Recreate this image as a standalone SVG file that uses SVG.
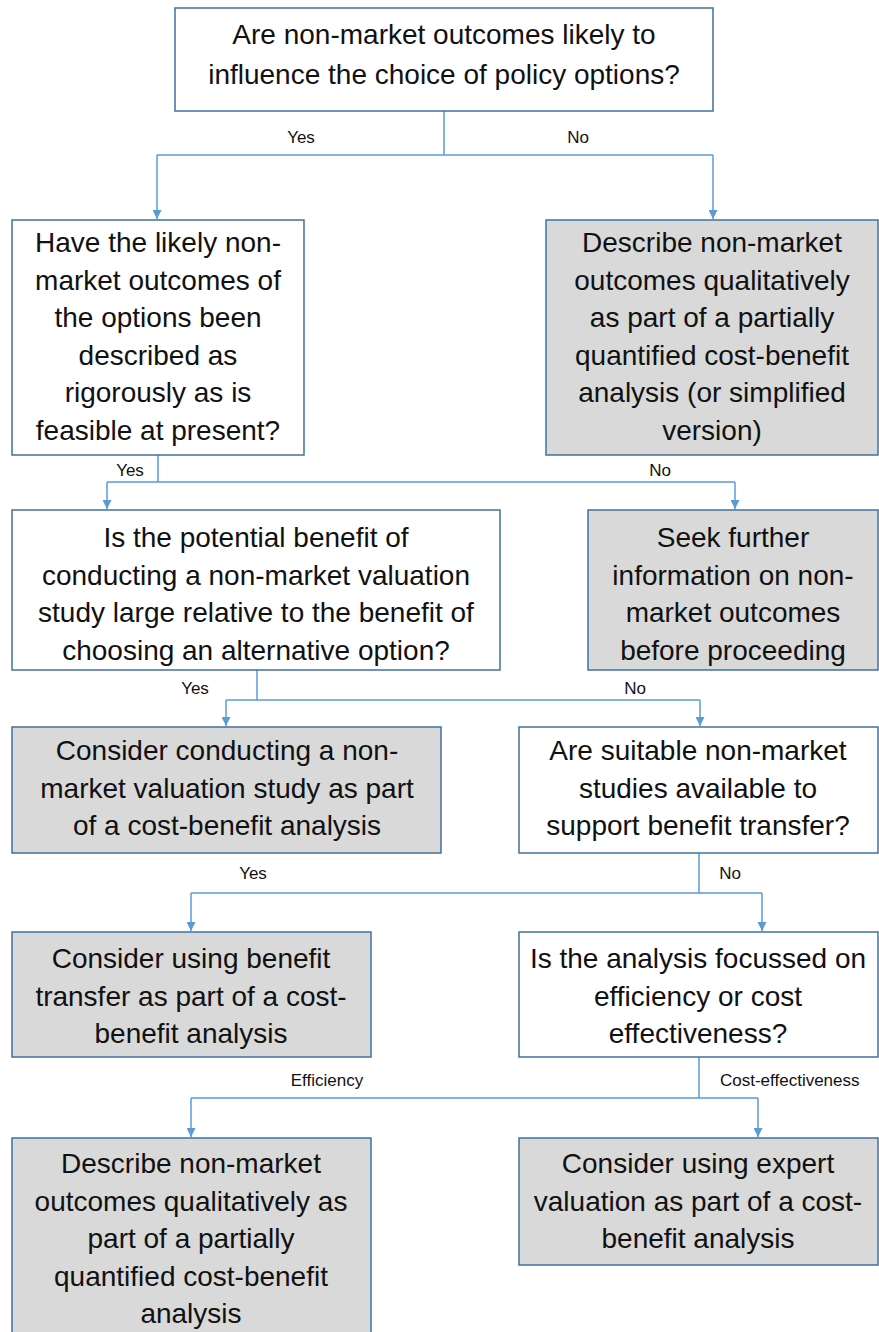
<svg xmlns="http://www.w3.org/2000/svg" width="879" height="1332" viewBox="0 0 879 1332">
<style>
.box{stroke:#41719c;stroke-width:1.5}
.w{fill:#ffffff}
.g{fill:#d9d9d9}
.t{font-family:"Liberation Sans",Arial,sans-serif;font-size:28px;fill:#111;text-anchor:middle}
.lbl{font-family:"Liberation Sans",Arial,sans-serif;font-size:17px;fill:#111;text-anchor:middle}
.c{fill:none;stroke:#5b9bd5;stroke-width:1.5}
</style>
<defs>
<marker id="arr" viewBox="0 0 10 10" refX="10" refY="5" markerWidth="9" markerHeight="9" markerUnits="userSpaceOnUse" orient="auto">
<path d="M0,0 L10,5 L0,10 z" fill="#5b9bd5"/>
</marker>
</defs>
<rect width="879" height="1332" fill="#ffffff"/>

<g id="connectors">
<path class="c" d="M444,111 V155 M157,155 H713" />
<path class="c" d="M157,155 V219" marker-end="url(#arr)"/>
<path class="c" d="M713,155 V219" marker-end="url(#arr)"/>
<text class="lbl" x="301" y="143">Yes</text>
<text class="lbl" x="578" y="143">No</text>

<path class="c" d="M158,455 V482 M107,482 H735" />
<path class="c" d="M107,482 V509" marker-end="url(#arr)"/>
<path class="c" d="M735,482 V509" marker-end="url(#arr)"/>
<text class="lbl" x="130" y="476">Yes</text>
<text class="lbl" x="660" y="476">No</text>

<path class="c" d="M257,670 V700 M226,700 H700" />
<path class="c" d="M226,700 V726" marker-end="url(#arr)"/>
<path class="c" d="M700,700 V726" marker-end="url(#arr)"/>
<text class="lbl" x="195" y="694">Yes</text>
<text class="lbl" x="635" y="694">No</text>

<path class="c" d="M699,853 V893 M191,893 H762" />
<path class="c" d="M191,893 V931" marker-end="url(#arr)"/>
<path class="c" d="M762,893 V931" marker-end="url(#arr)"/>
<text class="lbl" x="253" y="879">Yes</text>
<text class="lbl" x="730" y="879">No</text>

<path class="c" d="M699,1057 V1098 M191,1098 H758" />
<path class="c" d="M191,1098 V1137" marker-end="url(#arr)"/>
<path class="c" d="M758,1098 V1137" marker-end="url(#arr)"/>
<text class="lbl" x="327" y="1086">Efficiency</text>
<text class="lbl" x="720" y="1086" style="text-anchor:start">Cost-effectiveness</text>
</g>

<g id="q1">
<rect class="box w" x="175" y="8" width="538" height="103"/>
<text class="t" x="444" y="44">Are non-market outcomes likely to</text>
<text class="t" x="444" y="84">influence the choice of policy options?</text>
</g>

<g id="q2">
<rect class="box w" x="12" y="220" width="292" height="235"/>
<text class="t" x="158" y="252">Have the likely non-</text>
<text class="t" x="158" y="289.5">market outcomes of</text>
<text class="t" x="158" y="327">the options been</text>
<text class="t" x="158" y="364.5">described as</text>
<text class="t" x="158" y="402">rigorously as is</text>
<text class="t" x="158" y="439.5">feasible at present?</text>
</g>

<g id="a1">
<rect class="box g" x="546" y="220" width="332" height="235"/>
<text class="t" x="712" y="252">Describe non-market</text>
<text class="t" x="712" y="289.5">outcomes qualitatively</text>
<text class="t" x="712" y="327">as part of a partially</text>
<text class="t" x="712" y="364.5">quantified cost-benefit</text>
<text class="t" x="712" y="402">analysis (or simplified</text>
<text class="t" x="712" y="439.5">version)</text>
</g>

<g id="q3">
<rect class="box w" x="12" y="510" width="488" height="160"/>
<text class="t" x="256" y="547">Is the potential benefit of</text>
<text class="t" x="256" y="584.5">conducting a non-market valuation</text>
<text class="t" x="256" y="622">study large relative to the benefit of</text>
<text class="t" x="256" y="659.5">choosing an alternative option?</text>
</g>

<g id="a2">
<rect class="box g" x="588" y="510" width="290" height="160"/>
<text class="t" x="733" y="547">Seek further</text>
<text class="t" x="733" y="584.5">information on non-</text>
<text class="t" x="733" y="622">market outcomes</text>
<text class="t" x="733" y="659.5">before proceeding</text>
</g>

<g id="a3">
<rect class="box g" x="12" y="727" width="429" height="126"/>
<text class="t" x="227" y="760">Consider conducting a non-</text>
<text class="t" x="227" y="797.5">market valuation study as part</text>
<text class="t" x="227" y="835">of a cost-benefit analysis</text>
</g>

<g id="q4">
<rect class="box w" x="519" y="727" width="359" height="126"/>
<text class="t" x="698" y="760">Are suitable non-market</text>
<text class="t" x="698" y="797.5">studies available to</text>
<text class="t" x="698" y="835">support benefit transfer?</text>
</g>

<g id="a4">
<rect class="box g" x="12" y="932" width="359" height="125"/>
<text class="t" x="191" y="968">Consider using benefit</text>
<text class="t" x="191" y="1005.5">transfer as part of a cost-</text>
<text class="t" x="191" y="1043">benefit analysis</text>
</g>

<g id="q5">
<rect class="box w" x="519" y="932" width="359" height="125"/>
<text class="t" x="698" y="968">Is the analysis focussed on</text>
<text class="t" x="698" y="1005.5">efficiency or cost</text>
<text class="t" x="698" y="1043">effectiveness?</text>
</g>

<g id="a5">
<rect class="box g" x="12" y="1138" width="359" height="210"/>
<text class="t" x="191" y="1173">Describe non-market</text>
<text class="t" x="191" y="1210.5">outcomes qualitatively as</text>
<text class="t" x="191" y="1248">part of a partially</text>
<text class="t" x="191" y="1285.5">quantified cost-benefit</text>
<text class="t" x="191" y="1323">analysis</text>
</g>

<g id="a6">
<rect class="box g" x="519" y="1138" width="359" height="127"/>
<text class="t" x="698" y="1173">Consider using expert</text>
<text class="t" x="698" y="1210.5">valuation as part of a cost-</text>
<text class="t" x="698" y="1248">benefit analysis</text>
</g>
</svg>
